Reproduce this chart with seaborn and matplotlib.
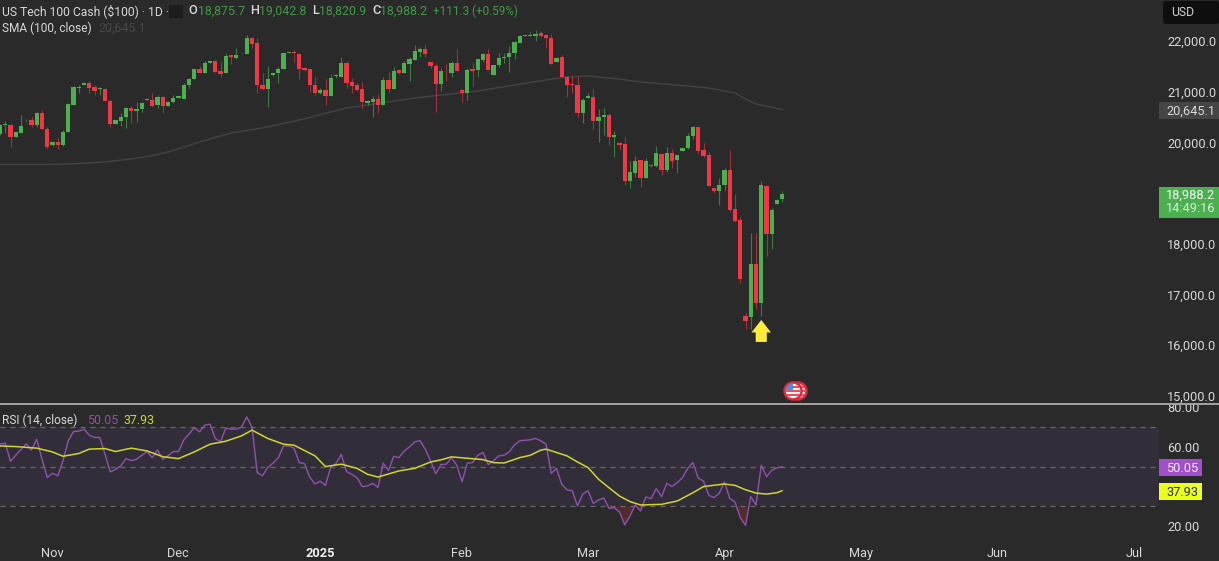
import numpy as np
import pandas as pd
import matplotlib
matplotlib.use("Agg")
import matplotlib.pyplot as plt
from matplotlib.patches import Rectangle, Circle, FancyBboxPatch
from matplotlib.transforms import Affine2D
import seaborn as sns

# daily candles
opens = [20166, 20337, 20350, 20100, 20192, 20435, 20442, 20337, 20587, 20271,
         19955, 20001, 19942, 20199, 20744, 21073, 21139, 21165, 21093, 21047,
         21047, 20823, 20370, 20416, 20495, 20672, 20626, 20652, 20830, 20837,
         20731, 20889, 20718, 20797, 20876, 20863, 21126, 21251, 21441, 21376,
         21573, 21599, 21408, 21362, 21717, 21671, 21737, 21744, 22059, 21967,
         21139, 21047, 21323, 21362, 21441, 21770, 21777, 21750, 21468, 21441,
         21139, 20981, 21027, 20915, 21310, 21297, 21566, 21191, 21126, 21047,
         20784, 20790, 20856, 20738, 21231, 21047, 21435, 21362, 21547, 21625,
         21783, 21849, 21579, 21514, 21152, 21395, 21376, 21566, 21040, 20968,
         21441, 21422, 21625, 21737, 21330, 21520, 21658, 21678, 21757, 21961,
         22105, 22105, 22099, 22152, 22119, 22066, 21593, 21678, 21290, 21152,
         21139, 20587, 20882, 20902, 20429, 20495, 20541, 20113, 19988, 19968,
         19232, 19403, 19646, 19298, 19561, 19528, 19778, 19456, 19798, 19660,
         19837, 19883, 20120, 20304, 19844, 19752, 19101, 19041, 19153, 19456,
         18680, 18476, 16576, 16556, 17608, 16839, 19140, 18193, 18785, 18875.7]
highs = [20363, 20429, 20363, 20212, 20534, 20455, 20508, 20593, 20639, 20310,
         20028, 20113, 20245, 20784, 21113, 21139, 21185, 21218, 21126, 21086,
         21067, 20830, 20442, 20573, 20692, 20718, 20790, 20790, 20863, 20981,
         20942, 20922, 20810, 20935, 20915, 21178, 21264, 21455, 21507, 21606,
         21612, 21625, 21586, 21770, 21731, 21869, 21757, 22119, 22086, 22053,
         21376, 21507, 21376, 21494, 21770, 21790, 21823, 21757, 21481, 21455,
         21284, 21067, 21244, 21343, 21343, 21678, 21599, 21264, 21165, 21185,
         20837, 20915, 20955, 21297, 21395, 21494, 21441, 21612, 21678, 21928,
         21875, 21921, 21586, 21560, 21468, 21547, 21599, 21836, 21047, 21461,
         21560, 21652, 21757, 21849, 21527, 21770, 21757, 21902, 22007, 22119,
         22125, 22171, 22217, 22197, 22125, 22138, 21678, 21724, 21310, 21316,
         21316, 20869, 20968, 21047, 20666, 20672, 20587, 20225, 20008, 20100,
         19633, 19738, 19653, 19686, 19574, 19929, 19785, 19916, 19863, 19745,
         19896, 20192, 20324, 20310, 19995, 19804, 19107, 19291, 19495, 19850,
         18982, 18535, 16629, 18207, 18207, 19232, 19166, 18706, 18890, 19042.8]
lows = [20146, 20179, 19916, 20100, 20192, 20429, 20297, 20310, 20258, 19870,
        19929, 19870, 19929, 20199, 20731, 20981, 21126, 20968, 20935, 20935,
        20810, 20297, 20370, 20324, 20278, 20376, 20409, 20606, 20830, 20692,
        20672, 20587, 20718, 20771, 20869, 20863, 21073, 21244, 21362, 21376,
        21573, 21395, 21297, 21362, 21547, 21639, 21737, 21744, 21869, 20981,
        21034, 20705, 21310, 21178, 21441, 21757, 21593, 21244, 21408, 21001,
        20935, 20955, 20738, 20915, 21270, 21284, 21073, 20968, 21021, 20672,
        20738, 20508, 20587, 20738, 20994, 21047, 21356, 21362, 21205, 21625,
        21691, 21691, 21468, 20600, 21014, 21218, 21284, 21402, 20804, 20836,
        21113, 21297, 21586, 21435, 21330, 21494, 21560, 21389, 21645, 21954,
        22099, 22099, 22007, 22086, 21856, 21553, 21593, 21284, 20902, 20968,
        20508, 20389, 20876, 20258, 20008, 20146, 19942, 19705, 19876, 19166,
        19094, 19324, 19127, 19298, 19521, 19521, 19357, 19423, 19495, 19390,
        19830, 19877, 20074, 19785, 19719, 19140, 19009, 18772, 19061, 18634,
        18423, 17220, 16313, 16313, 16720, 16582, 17759, 17904, 18779, 18820.9]
closes = [20343, 20363, 20100, 20205, 20324, 20449, 20337, 20587, 20258, 19916,
          20008, 19942, 20205, 20758, 21093, 21086, 21165, 21073, 21021, 21067,
          20810, 20363, 20442, 20508, 20672, 20620, 20659, 20771, 20850, 20725,
          20889, 20718, 20804, 20883, 20909, 21139, 21257, 21441, 21376, 21573,
          21599, 21395, 21356, 21704, 21691, 21724, 21750, 22053, 21934, 21126,
          21047, 21251, 21362, 21455, 21770, 21783, 21757, 21455, 21428, 21126,
          20968, 21034, 20915, 21264, 21323, 21573, 21172, 21106, 21027, 20790,
          20817, 20863, 20738, 21231, 21047, 21408, 21362, 21566, 21639, 21803,
          21849, 21737, 21507, 21159, 21408, 21382, 21566, 21402, 20968, 21435,
          21415, 21645, 21737, 21435, 21527, 21671, 21685, 21770, 21974, 22105,
          22119, 22119, 22145, 22099, 22059, 21553, 21671, 21284, 21126, 21139,
          20587, 20843, 20915, 20429, 20508, 20541, 20113, 20146, 19955, 19232,
          19416, 19627, 19298, 19627, 19535, 19785, 19456, 19798, 19640, 19745,
          19890, 20126, 20304, 19837, 19738, 19140, 19041, 19153, 19456, 18667,
          18456, 17306, 16484, 17608, 16839, 19153, 18193, 18667, 18864, 18988.2]

# SMA 100, read at the bends
sma_bars = [0, 10, 15, 20, 25, 29, 32, 35, 38, 44, 51, 57, 66, 79, 91, 104, 108, 112, 118, 122, 131, 135,
            140, 142, 144, 147, 149]
sma_vals = [19565, 19565, 19584, 19615, 19673, 19740, 19811, 19905, 20008, 20186, 20304, 20442, 20679, 20876,
            21014, 21231, 21290, 21310, 21250, 21191, 21113, 21073, 20975, 20856, 20758, 20695, 20645.1]

rsi_vals = [61.4, 61.9, 52.8, 55.8, 58.7, 61.6, 58.4, 63.9, 53.8, 44.5, 46.7,
            45.4, 53.0, 63.1, 67.8, 68.0, 69.0, 65.9, 64.8, 64.8, 56.3,
            47.4, 48.7, 50.4, 54.1, 53.1, 53.8, 55.8, 57.7, 54.6, 58.5,
            53.8, 55.5, 57.7, 57.7, 63.6, 66.5, 69.8, 67.6, 71.0, 71.5,
            64.3, 62.6, 69.5, 69.0, 69.0, 70.0, 75.2, 70.0, 47.0, 45.5,
            49.6, 51.8, 54.5, 60.5, 60.5, 59.4, 52.1, 51.6, 44.8, 41.3,
            42.7, 40.6, 49.9, 51.6, 56.2, 47.6, 46.2, 44.5, 40.0, 40.3,
            41.6, 39.6, 51.8, 48.1, 55.3, 54.6,
            58.0, 60.0, 62.6, 63.2, 58.9, 53.0, 46.5, 51.1, 51.3, 54.5, 50.8, 42.5,
            51.8, 52.1, 55.8, 57.2, 51.1, 53.0, 55.5, 55.8, 57.5, 61.1, 63.1, 63.4,
            63.6, 64.3, 63.1, 61.4, 46.7, 49.1, 41.1, 38.3, 37.9, 30.2, 36.2, 37.9,
            31.5, 33.2, 34.2, 29.0, 29.3, 27.1, 20.7, 25.1, 30.7, 27.6, 34.7, 33.9,
            38.9, 34.9, 41.6, 40.0, 42.0, 44.5, 49.2, 52.1, 44.3, 42.8, 35.6, 34.4,
            36.6, 42.3, 34.0, 32.2, 24.3, 20.4, 34.9, 30.7, 50.8, 45.0, 48.2, 49.4, 50.05]

rsi_ma_bars = [0, 3, 7, 10, 12, 15, 17, 20, 22, 25, 28, 31, 34, 37, 40, 43, 46, 48, 51, 54, 56, 60, 62,
               65, 68, 70, 72, 76, 79, 82, 84, 86, 92, 94, 96, 99, 101, 103, 104, 108, 110, 112, 114,
               116, 118, 120, 122, 126, 129, 132, 134, 138, 140, 142, 144, 146, 148, 149]
rsi_ma_vals = [60.5, 60.2, 59.4, 57.5, 55.3, 56.7, 58.9, 59.2, 57.7, 59.4, 58.0, 55.1, 54.1, 57.5, 61.4,
               62.9, 65.6, 68.5, 64.3, 61.4, 60.9, 55.5, 50.1, 51.3, 49.2, 46.2, 44.8, 47.9, 49.2, 52.4,
               53.5, 55.0, 53.6, 52.1, 51.9, 54.6, 55.8, 58.4, 58.9, 55.5, 52.4, 49.6, 43.7, 39.4, 35.2,
               32.4, 30.7, 31.0, 32.7, 36.9, 40.0, 41.3, 40.6, 38.4, 36.7, 36.2, 36.9, 37.93]

month_bars = [9.9, 33.9, 61, 88, 112, 138, 164, 190, 216]
month_labels = ["Nov", "Dec", "2025", "Feb", "Mar", "Apr", "May", "Jun", "Jul"]
price_ticks = [15000, 16000, 17000, 18000, 19000, 20000, 21000, 22000]
rsi_ticks = [20, 60, 80]

BG = "#2a2a2a"
GREEN = "#4caf50"
RED = "#f23645"
TXT = "#d8d8d8"

sns.set_theme(style="dark", rc={"axes.facecolor": BG, "figure.facecolor": BG, "axes.grid": False})
plt.rcParams["font.family"] = ["Roboto", "DejaVu Sans"]

W, H = 1219, 561
fig = plt.figure(figsize=(W / 100, H / 100), dpi=100)
ax = fig.add_axes([0, (H - 404) / H, 1159 / W, 404 / H])
ax_rsi = fig.add_axes([0, (H - 540) / H, 1159 / W, 135 / H])

# pixel coords with origin at top left, for the tags and header
px = Affine2D().scale(1, -1).translate(0, H)

df = pd.DataFrame({"open": opens, "high": highs, "low": lows, "close": closes})
df["bar"] = np.arange(len(df))
df["color"] = np.where(df["close"] >= df["open"], GREEN, RED)

# candles
ax.vlines(df["bar"], df["low"], df["high"], colors=df["color"], linewidth=0.8, alpha=0.6, zorder=2)
ax.bar(df["bar"], (df["close"] - df["open"]).abs(), bottom=df[["open", "close"]].min(axis=1),
       width=0.78, color=df["color"], linewidth=0, zorder=3)

sns.lineplot(x=sma_bars, y=sma_vals, ax=ax, color="#434343", linewidth=1.0, zorder=1)

# yellow arrow under the low
ax.annotate("", xy=(145, 16498), xytext=(145, 16064), zorder=5,
            arrowprops=dict(facecolor="#ffeb3b", edgecolor="none", width=8, headwidth=14,
                            headlength=9, shrink=0))

ax.set_xlim(0, 1159 / 5.25)
ax.set_ylim(14840, 22809)
ax.set_xticks([])
ax.yaxis.tick_right()
ax.set_yticks(price_ticks)
ax.set_yticklabels([f"{p:,.1f}" for p in price_ticks])
ax.tick_params(axis="y", length=0, pad=6, labelsize=9.2, labelcolor=TXT)
sns.despine(ax=ax, left=True, bottom=True, right=True, top=True)

# RSI panel
ax_rsi.axhspan(30, 70, color="#7e57c2", alpha=0.1, linewidth=0, zorder=0)
for lvl in [70, 50, 30]:
    ax_rsi.axhline(lvl, color="#686868", linewidth=0.9, linestyle=(0, (4, 4)), zorder=1)
rsi_x = np.arange(len(rsi_vals))
rsi_arr = np.array(rsi_vals)
ax_rsi.fill_between(rsi_x, rsi_arr, 30, where=rsi_arr < 30, interpolate=True,
                    color="#f23645", alpha=0.2, linewidth=0, zorder=1)
sns.lineplot(x=rsi_x, y=rsi_vals, ax=ax_rsi, color="#8e52ad", linewidth=1.0, zorder=3)
sns.lineplot(x=rsi_ma_bars, y=rsi_ma_vals, ax=ax_rsi, color="#cfd62e", linewidth=1.1, zorder=4)

ax_rsi.set_xlim(0, 1159 / 5.25)
ax_rsi.set_ylim(13, 81.2)
ax_rsi.yaxis.tick_right()
ax_rsi.set_yticks(rsi_ticks)
ax_rsi.set_yticklabels([f"{r:.2f}" for r in rsi_ticks])
ax_rsi.tick_params(axis="y", length=0, pad=6, labelsize=9.2, labelcolor=TXT)
ax_rsi.set_xticks(month_bars)
ax_rsi.set_xticklabels(month_labels)
ax_rsi.tick_params(axis="x", length=0, pad=5, labelsize=9.2, labelcolor=TXT)
ax_rsi.get_xticklabels()[2].set_fontweight("bold")
ax_rsi.get_xticklabels()[2].set_color("#f0f0f0")
sns.despine(ax=ax_rsi, left=True, bottom=True, right=True, top=True)


def box(x, y, w, h, color, **kw):
    fig.add_artist(Rectangle((x, y), w, h, transform=px, facecolor=color, edgecolor="none", **kw))


def label(x, y, s, color=TXT, size=9.2, **kw):
    fig.text(x, y, s, transform=px, color=color, fontsize=size, va="center", **kw)


# separator between the panes
box(0, 403, W, 2, "#a0a0a0")

# price and indicator tags
box(1159, 102, 60, 17, "#454545")
label(1215, 111, "20,645.1", ha="right")
box(1159, 187, 60, 31, GREEN)
label(1215, 195, "18,988.2", color="#f2fff2", ha="right")
label(1215, 209, "14:49:16", color="#d5f0d5", ha="right")
box(1159, 459, 43, 17, "#a050c8")
label(1198, 468, "50.05", color="#f4e8fa", ha="right")
box(1159, 483, 43, 17, "#eaff1e")
label(1198, 492, "37.93", color="#2a2a2a", ha="right")

fig.add_artist(FancyBboxPatch((1163, 1), 56, 23, boxstyle="round,pad=0,rounding_size=3", transform=px,
                              facecolor="#0e0e0e", edgecolor="none"))
label(1171, 12, "USD", color="#d0d0d0", size=8.8)

# header
label(2, 11, "US Tech 100 Cash ($100) · 1D ·", size=8.7)
box(169, 5, 14, 13, "#1c1c1c")
HDR_GREEN = "#3f9a45"
for x_l, s_l, x_v, s_v in [(188, "O", 198, "18,875.7"), (250, "H", 259, "19,042.8"),
                           (312, "L", 319, "18,820.9"), (372, "C", 380, "18,988.2")]:
    label(x_l, 11, s_l, size=9.2, fontweight="medium")
    label(x_v, 11, s_v, color=HDR_GREEN, size=8.9)
label(433, 11, "+111.3 (+0.59%)", color=HDR_GREEN, size=8.4)
label(2, 28, "SMA (100, close)", size=8.6)
label(98, 28, "20,645.1", color="#484848", size=8.9)
label(2, 420, "RSI (14, close)", size=8.6)
label(87, 420, "50.05", color="#8e52ad", size=8.9)
label(123, 420, "37.93", color="#cfd62e", size=8.9)

# US flag event markers
for cx in [798, 793]:
    disc = Circle((cx, 391), 8.5, transform=px, facecolor="#f4f4f4", edgecolor="#e0283a", linewidth=1.8)
    fig.add_artist(disc)
    for sy in [386, 390, 394]:
        stripe = Rectangle((cx - 9, sy), 18, 1.8, transform=px, facecolor="#e8505a", edgecolor="none")
        fig.add_artist(stripe)
        stripe.set_clip_path(Circle((cx, 391), 7.5, transform=px))
    canton = Rectangle((cx - 9, 382), 9, 8, transform=px, facecolor="#4a8fe0", edgecolor="none")
    fig.add_artist(canton)
    canton.set_clip_path(Circle((cx, 391), 7.5, transform=px))

fig.savefig("out.png", dpi=100, facecolor=BG)
